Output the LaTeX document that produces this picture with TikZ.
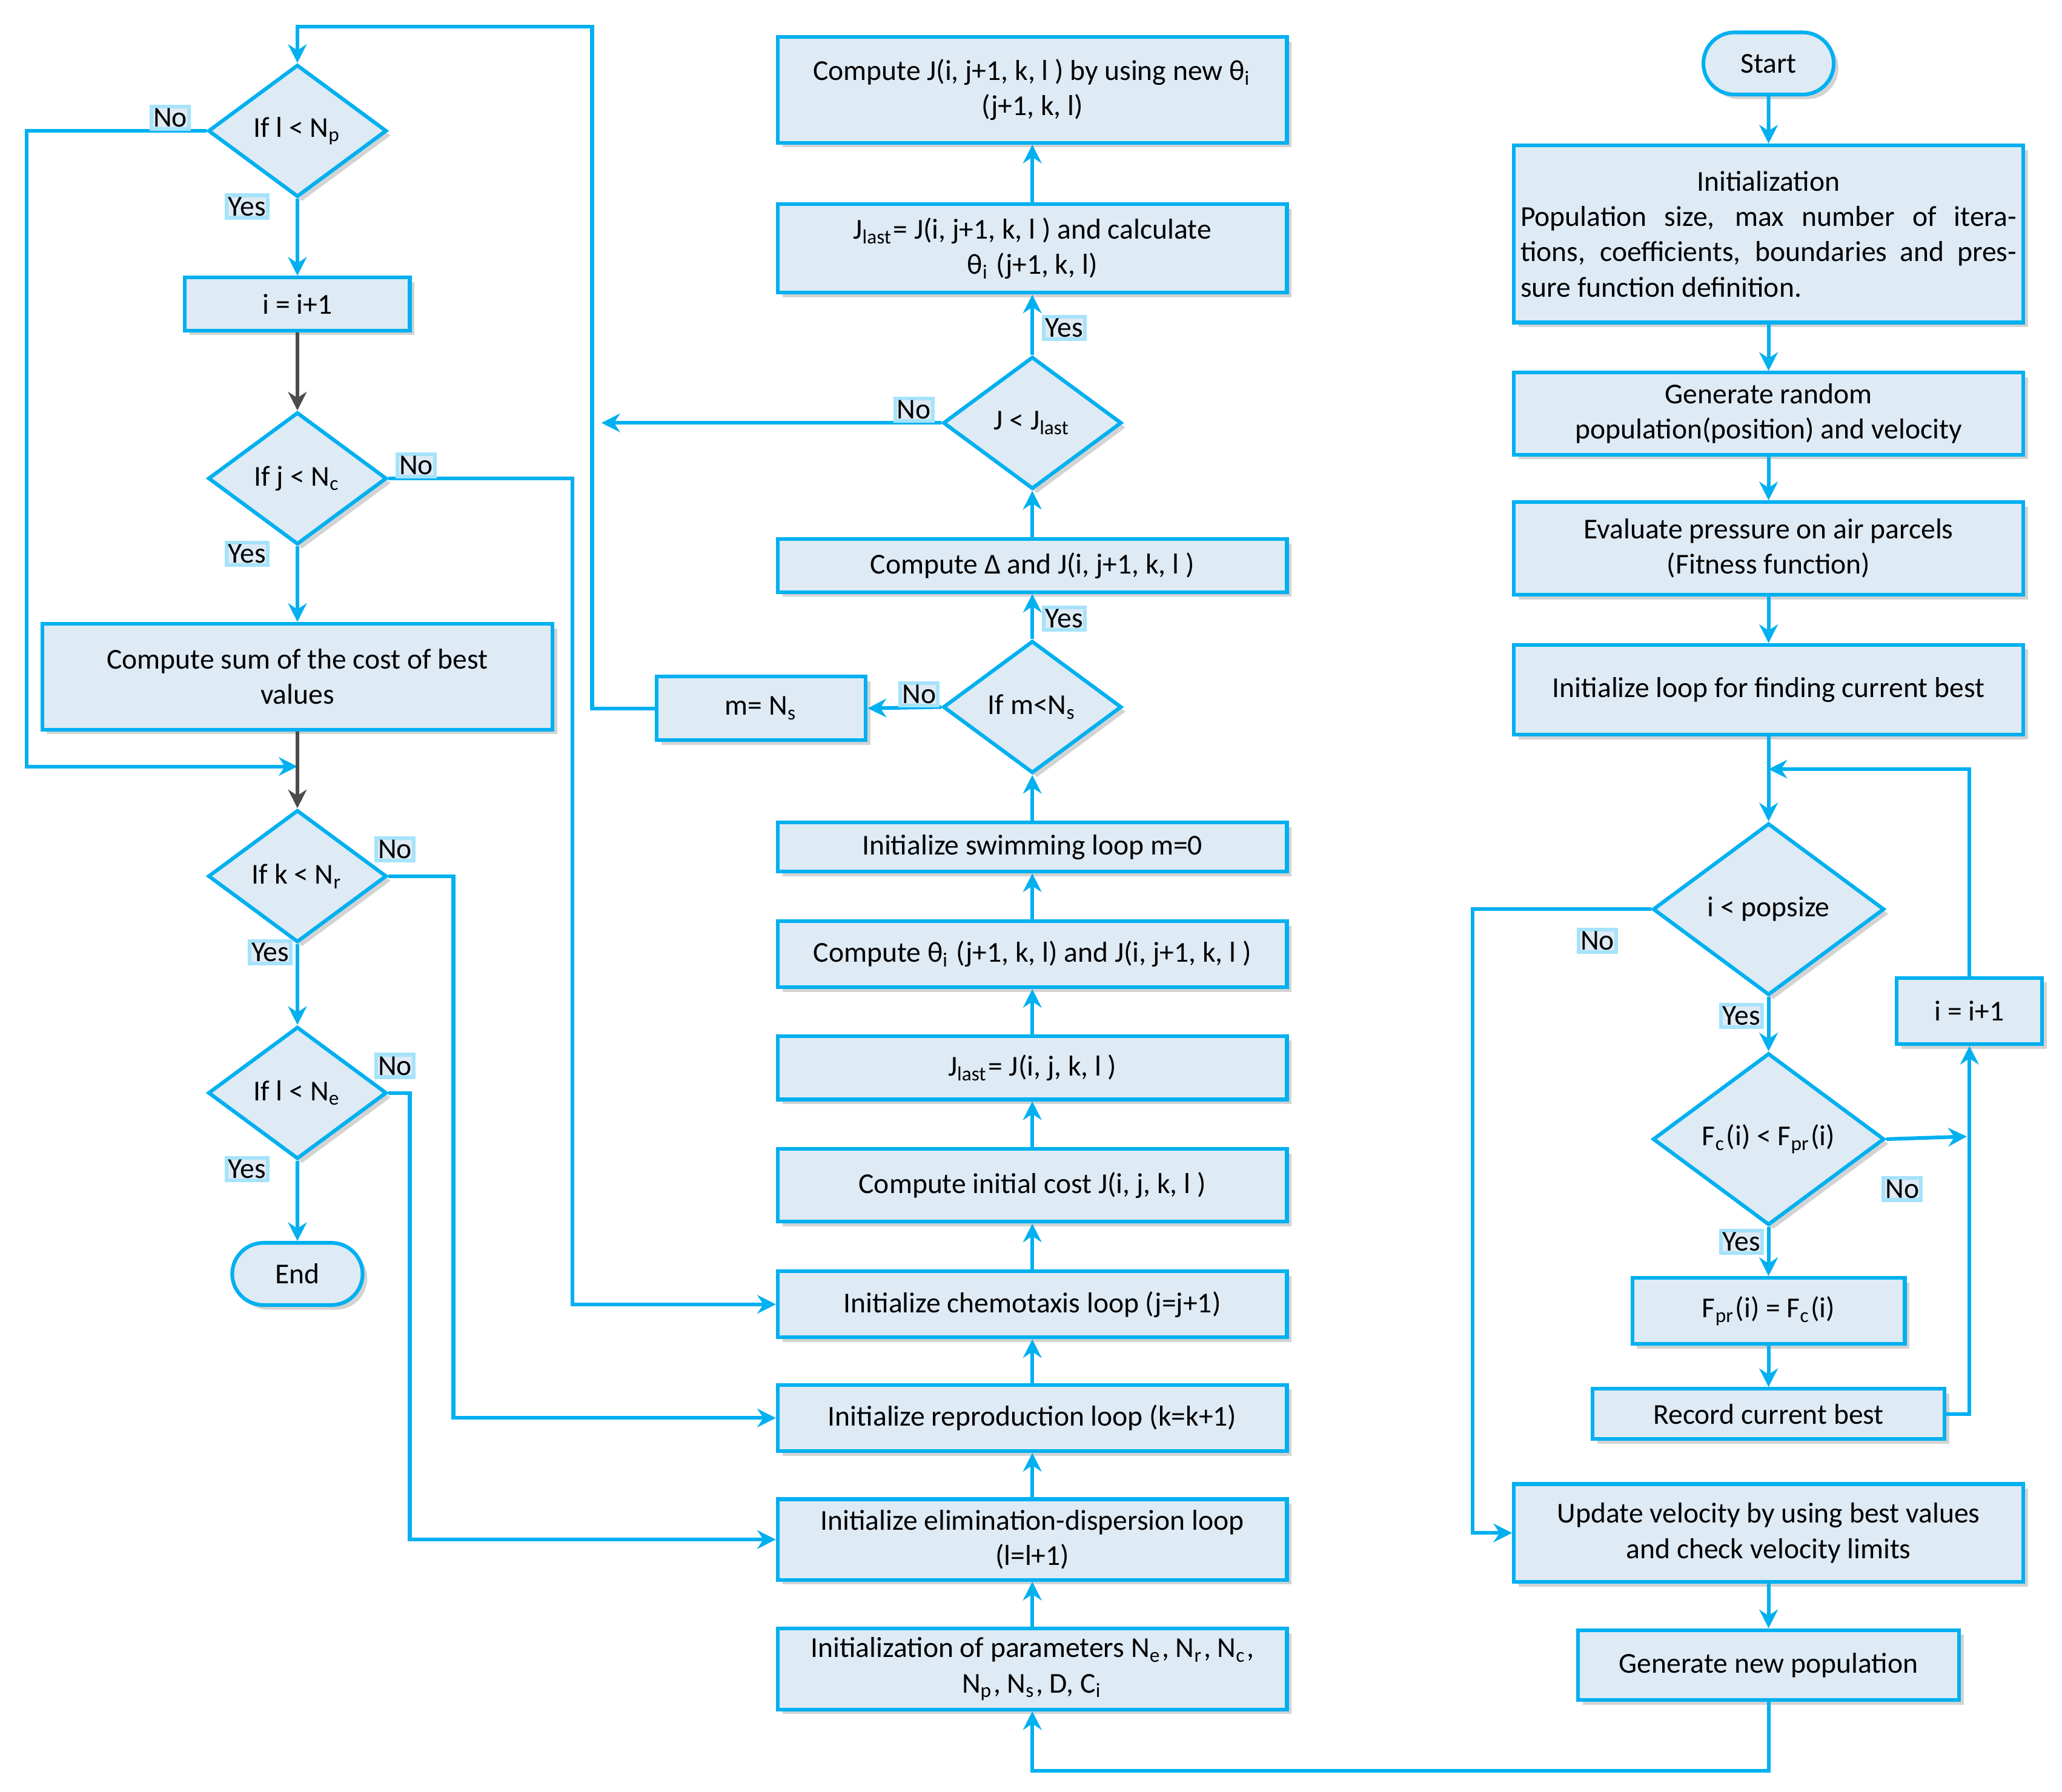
\documentclass[tikz,border=0pt]{standalone}
\usepackage{fontspec}
\setmainfont{Carlito}
\usetikzlibrary{shapes.geometric,shapes.misc,shadows,arrows.meta}
\definecolor{linec}{RGB}{0,176,240}
\definecolor{boxfill}{RGB}{222,234,244}
\tikzset{
  base/.style={draw=linec, line width=0.8pt, fill=boxfill, font=\fontsize{6.2}{7.6}\selectfont,
    drop shadow={opacity=0.35, shadow xshift=0.035cm, shadow yshift=-0.035cm}},
  box/.style={base, rectangle, minimum width=3.85cm, minimum height=0.5cm, align=center, inner sep=1pt},
  dec/.style={base, diamond, aspect=1.35, minimum width=1.35cm, minimum height=1.0cm, inner sep=0pt},
  term/.style={base, rounded rectangle, minimum width=1.22cm, minimum height=0.47cm},
  lbl/.style={fill=boxfill, draw=linec!35, inner sep=0.4pt, font=\fontsize{6.2}{7}\selectfont},
  flow/.style={draw=linec, line width=0.8pt, -{Stealth[length=4pt,width=4pt]}},
  dark/.style={draw=black!70, line width=0.8pt, -{Stealth[length=4pt,width=4pt]}}
}
\newcommand{\sub}[1]{\textsubscript{#1}}
\begin{document}
\begin{tikzpicture}[x=0.01cm, y=-0.01cm]
\useasboundingbox (0,0) rectangle (1560,1356);
% left column
\node[dec] (lp) at (225,99) {If l {<} N\sub{p}};
\node[box, minimum width=1.7cm, minimum height=0.4cm] (inc1) at (225,230) {i = i+1};
\node[dec] (jc) at (225,362) {If j {<} N\sub{c}};
\node[box, minimum width=3.86cm, minimum height=0.8cm] (sum) at (225,512) {Compute sum of the cost of best\\values};
\node[dec] (kr) at (225,663) {If k {<} N\sub{r}};
\node[dec] (le) at (225,827) {If l {<} N\sub{e}};
\node[term] (end) at (225,964) {End};
% middle column
\node[box, minimum height=0.8cm] (newj) at (781,68) {Compute J(i, j+1, k, l ) by using new θ\sub{i}\\(j+1, k, l)};
\node[box, minimum height=0.67cm] (jlast2) at (781,188) {J\sub{last}= J(i, j+1, k, l ) and calculate\\θ\sub{i} (j+1, k, l)};
\node[dec] (jl) at (781,320) {J {<} J\sub{last}};
\node[box, minimum height=0.4cm] (delta) at (781,428) {Compute Δ and J(i, j+1, k, l )};
\node[dec] (ms) at (781,535) {If m{<}N\sub{s}};
\node[box, minimum width=1.58cm, minimum height=0.48cm] (mset) at (576,536) {m= N\sub{s}};
\node[box, minimum height=0.37cm] (swim) at (781,641) {Initialize swimming loop m=0};
\node[box] (theta) at (781,722) {Compute θ\sub{i} (j+1, k, l) and J(i, j+1, k, l )};
\node[box, minimum height=0.48cm] (jlast1) at (781,808) {J\sub{last}= J(i, j, k, l )};
\node[box, minimum height=0.55cm] (init) at (781,897) {Compute initial cost J(i, j, k, l )};
\node[box] (chemo) at (781,987) {Initialize chemotaxis loop (j=j+1)};
\node[box] (repro) at (781,1073) {Initialize reproduction loop (k=k+1)};
\node[box, minimum height=0.61cm] (elim) at (781,1165) {Initialize elimination-dispersion loop\\(l=l+1)};
\node[box, minimum height=0.61cm] (param) at (781,1263) {Initialization of parameters N\sub{e}, N\sub{r}, N\sub{c},\\N\sub{p}, N\sub{s}, D, C\sub{i}};
% right column
\node[term] (start) at (1338,48) {Start};
\node[box, minimum height=1.34cm, text width=3.75cm, align=justify] (ini) at (1338,177)
  {\hyphenpenalty=10000 \hspace*{\fill}Initialization\hspace*{\fill}\\Population size, max number of iterations, coefficients, boundaries and pressure function definition.};
\node[box, minimum height=0.62cm] (gen) at (1338,313) {Generate random\\population(position) and velocity};
\node[box, minimum height=0.7cm] (eval) at (1338,415) {Evaluate pressure on air parcels\\(Fitness function)};
\node[box, minimum height=0.68cm] (loop) at (1338,522) {Initialize loop for finding current best};
\node[dec, minimum width=1.75cm, minimum height=1.3cm] (pop) at (1338,688) {i {<} popsize};
\node[dec, minimum width=1.75cm, minimum height=1.3cm] (fit) at (1338,862) {F\sub{c}(i) {<} F\sub{pr}(i)};
\node[box, minimum width=1.1cm] (inc2) at (1490,765) {i = i+1};
\node[box, minimum width=2.06cm] (upd) at (1338,992) {F\sub{pr}(i) = F\sub{c}(i)};
\node[box, minimum width=2.66cm, minimum height=0.38cm] (rec) at (1338,1070) {Record current best};
\node[box, minimum height=0.74cm] (vel) at (1338,1160) {Update velocity by using best values\\and check velocity limits};
\node[box, minimum width=2.88cm, minimum height=0.53cm] (newpop) at (1338,1260) {Generate new population};
\coordinate (merge) at (1338,582);
\coordinate (fitpt) at (1488,860);
\coordinate (jlno) at (455,320);
\coordinate (lpmerge) at (225,580);
% right connectors
\draw[flow] (start) -- (ini);
\draw[flow] (ini) -- (gen);
\draw[flow] (gen) -- (eval);
\draw[flow] (eval) -- (loop);
\draw[flow] (loop) -- (pop);
\draw[flow] (pop) -- node[lbl, pos=0.35, left=1pt] {Yes} (fit);
\draw[flow] (fit) -- node[lbl, pos=0.3, left=1pt] {Yes} (upd);
\draw[flow] (upd) -- (rec);
\draw[flow] (rec.east) -| (inc2.south);
\draw[flow] (fit.east) -- node[lbl, pos=0.2, below=8pt] {No} (fitpt);
\draw[flow] (inc2.north) |- (merge);
\draw[flow] (pop.west) -- node[lbl, pos=0.3, below=4pt] {No} (1114,688) |- (vel.west);
\draw[flow] (vel) -- (newpop);
\draw[flow] (newpop.south) -- (1338,1340) -| (param.south);
% middle connectors
\draw[flow] (param) -- (elim);
\draw[flow] (elim) -- (repro);
\draw[flow] (repro) -- (chemo);
\draw[flow] (chemo) -- (init);
\draw[flow] (init) -- (jlast1);
\draw[flow] (jlast1) -- (theta);
\draw[flow] (theta) -- (swim);
\draw[flow] (swim) -- (ms);
\draw[flow] (ms) -- node[lbl, pos=0.45, right=2pt] {Yes} (delta);
\draw[flow] (delta) -- (jl);
\draw[flow] (jl) -- node[lbl, pos=0.45, right=2pt] {Yes} (jlast2);
\draw[flow] (jlast2) -- (newj);
\draw[flow] (jl.west) -- node[lbl, pos=0.08, above=0pt] {No} (jlno);
\draw[flow] (ms.west) -- node[lbl, pos=0.3, above=0pt] {No} (mset.east);
\draw[flow] (mset.west) -- (448,536) -- (448,20) -| (lp.north);
% left connectors
\draw[flow] (lp.west) -- node[lbl, pos=0.2, above=0pt] {No} (20,99) |- (lpmerge);
\draw[flow] (lp) -- node[lbl, pos=0.1, left=6pt] {Yes} (inc1);
\draw[dark] (inc1) -- (jc);
\draw[flow] (jc) -- node[lbl, pos=0.1, left=6pt] {Yes} (sum);
\draw[dark] (sum) -- (kr);
\draw[flow] (jc.east) -- node[lbl, pos=0.15, above=0pt] {No} (433,362) |- (chemo.west);
\draw[flow] (kr) -- node[lbl, pos=0.1, left=1pt] {Yes} (le);
\draw[flow] (kr.east) -- node[lbl, pos=0.1, above=3pt] {No} (343,663) |- (repro.west);
\draw[flow] (le) -- node[lbl, pos=0.1, left=6pt] {Yes} (end);
\draw[flow] (le.east) -- node[lbl, pos=0.3, above=3pt] {No} (310,827) |- (elim.west);
\end{tikzpicture}
\end{document}
